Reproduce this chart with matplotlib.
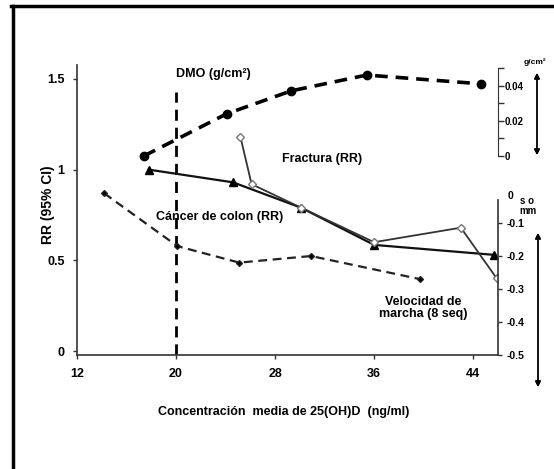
import matplotlib
matplotlib.use("Agg")
import matplotlib.pyplot as plt
from matplotlib.lines import Line2D

plt.rcParams['font.family'] = ['Liberation Sans', 'DejaVu Sans']
plt.rcParams['font.weight'] = 'bold'
plt.rcParams['axes.labelweight'] = 'bold'

# data
x_ticks = [12, 20, 28, 36, 44]
rr_ticks = [0, 0.5, 1, 1.5]
rr_tick_labels = ['0', '0.5', '1', '1.5']

# DMO (g/cm2), upper right axis
dmo_x = [17.4, 24.1, 29.3, 35.4, 44.6]
dmo_y = [0.0, 0.024, 0.037, 0.046, 0.041]

# Velocidad de marcha, lower right axis
marcha_x = [14.2, 20.1, 25.1, 30.9, 39.7]
marcha_y = [-0.01, -0.17, -0.22, -0.20, -0.27]

# Cancer de colon (RR)
colon_x = [17.8, 24.6, 30.1, 36.0, 45.7]
colon_y = [1.0, 0.93, 0.79, 0.585, 0.53]

# Fractura (RR)
fract_x = [25.2, 26.1, 30.1, 36.0, 43.0, 45.9]
fract_y = [1.18, 0.92, 0.79, 0.60, 0.68, 0.40]

dmo_ticks = [0, 0.02, 0.04]
dmo_minor = [0.01, 0.03, 0.05]
marcha_ticks = [-0.1, -0.2, -0.3, -0.4, -0.5]

W, H = 554, 469
fig = plt.figure(figsize=(W / 100, H / 100), dpi=100)

left, right, top, bottom = 77, 498, 65, 355
ax = fig.add_axes([left / W, (H - bottom) / H, (right - left) / W, (bottom - top) / H])
ax.set_xlim(12, 46)
ax.set_ylim(-0.022, 1.577)
ax.set_facecolor('none')

for s in ['top', 'right']:
    ax.spines[s].set_visible(False)
ax.spines['left'].set_linewidth(1.2)
ax.spines['bottom'].set_linewidth(1.2)
ax.spines['left'].set_color('#333333')
ax.spines['bottom'].set_color('#333333')
ax.set_xticks(x_ticks)
ax.set_yticks(rr_ticks)
ax.set_yticklabels(rr_tick_labels)
ax.tick_params(labelsize=9, length=3, width=1, color='#333333', pad=6)
ax.set_xlabel('Concentración  media de 25(OH)D  (ng/ml)', fontsize=9)
ax.set_ylabel('RR (95% CI)', fontsize=10)
ax.xaxis.set_label_coords(0.49, -0.176)
ax.yaxis.set_label_coords(-0.052, 0.52)

# vertical dashed line at 20 ng/ml
ax.plot([20, 20], [-0.022, 1.43], color='black', lw=2, dashes=(4, 2.5))

# colon and fracture on main RR axis
ax.plot(colon_x, colon_y, color='#111111', lw=1.6, marker='^', markersize=6,
        markerfacecolor='black', markeredgecolor='black', zorder=4)
ax.plot(fract_x, fract_y, color='#333333', lw=1.3, marker='D', markersize=4,
        markerfacecolor='white', markeredgecolor='#777777', markeredgewidth=1, zorder=5)

# upper right axis (DMO)
ax_dmo = ax.twinx()
ax_dmo.set_ylim(-0.1131, 0.0517)
for s in ['top', 'left', 'bottom']:
    ax_dmo.spines[s].set_visible(False)
ax_dmo.spines['right'].set_bounds(0, 0.05)
ax_dmo.spines['right'].set_color('#333333')
ax_dmo.set_yticks(dmo_ticks)
ax_dmo.set_yticklabels(['0', '0.02', '0.04'])
ax_dmo.set_yticks(dmo_minor, minor=True)
ax_dmo.tick_params(which='both', labelsize=7, length=4, width=1, pad=1, color='#333333')
ax_dmo.plot(dmo_x, dmo_y, color='black', lw=2.6, dashes=(3.5, 2.2), marker='o',
            markersize=6, markerfacecolor='black', zorder=3)

# lower right axis (velocidad de marcha)
ax_m = ax.twinx()
ax_m.set_ylim(-0.5, 0.379)
for s in ['top', 'left', 'bottom']:
    ax_m.spines[s].set_visible(False)
ax_m.spines['right'].set_bounds(-0.03, -0.5)
ax_m.spines['right'].set_color('#333333')
ax_m.spines['right'].set_linewidth(1.2)
ax_m.set_yticks(marcha_ticks)
ax_m.set_yticklabels(['-0.1', '-0.2', '-0.3', '-0.4', '-0.5'])
ax_m.tick_params(labelsize=7.5, length=3, width=1, pad=3, color='#333333')
ax_m.plot(marcha_x, marcha_y, color='#222222', lw=1.6, dashes=(4, 2.5), marker='D',
          markersize=3, markerfacecolor='black', zorder=3)

# series labels
ax.text(20, 1.43 + 0.1, 'DMO (g/cm²)', fontsize=9, ha='left', va='center')
fig.text(322 / W, 1 - 159 / H, 'Fractura (RR)', fontsize=9, ha='center', va='center')
fig.text(220 / W, 1 - 217 / H, 'Cáncer de colon (RR)', fontsize=9, ha='center', va='center')
fig.text(423 / W, 1 - 308 / H, 'Velocidad de\nmarcha (8 seq)', fontsize=9, ha='center',
         va='center', linespacing=1.05)

# right axis unit labels
fig.text(535 / W, 1 - 62 / H, 'g/cm²', fontsize=6, ha='center', va='center')
fig.text(510 / W, 1 - 196 / H, '0', fontsize=7.5, ha='center', va='center')
fig.text(527 / W, 1 - 201 / H, 's o', fontsize=7, ha='center', va='center')
fig.text(528 / W, 1 - 211 / H, 'mm', fontsize=7, ha='center', va='center')

# double headed arrows on the far right
arrow = dict(arrowstyle='<|-|>', color='black', lw=1, mutation_scale=8, shrinkA=0, shrinkB=0)
fig.add_artist(plt.annotate('', xy=(537 / W, 1 - 73 / H), xytext=(537 / W, 1 - 155 / H),
                            xycoords='figure fraction', arrowprops=arrow))
fig.add_artist(plt.annotate('', xy=(538 / W, 1 - 233 / H), xytext=(538 / W, 1 - 387 / H),
                            xycoords='figure fraction', arrowprops=arrow))

# frame on top and left of the picture
fig.add_artist(Line2D([12.5 / W, 12.5 / W], [0, 1 - 6 / H], color='black', lw=2.5,
                      transform=fig.transFigure))
fig.add_artist(Line2D([11 / W, 1], [1 - 6 / H, 1 - 6 / H], color='black', lw=2.5,
                      transform=fig.transFigure))

fig.savefig('out.png', dpi=100)
